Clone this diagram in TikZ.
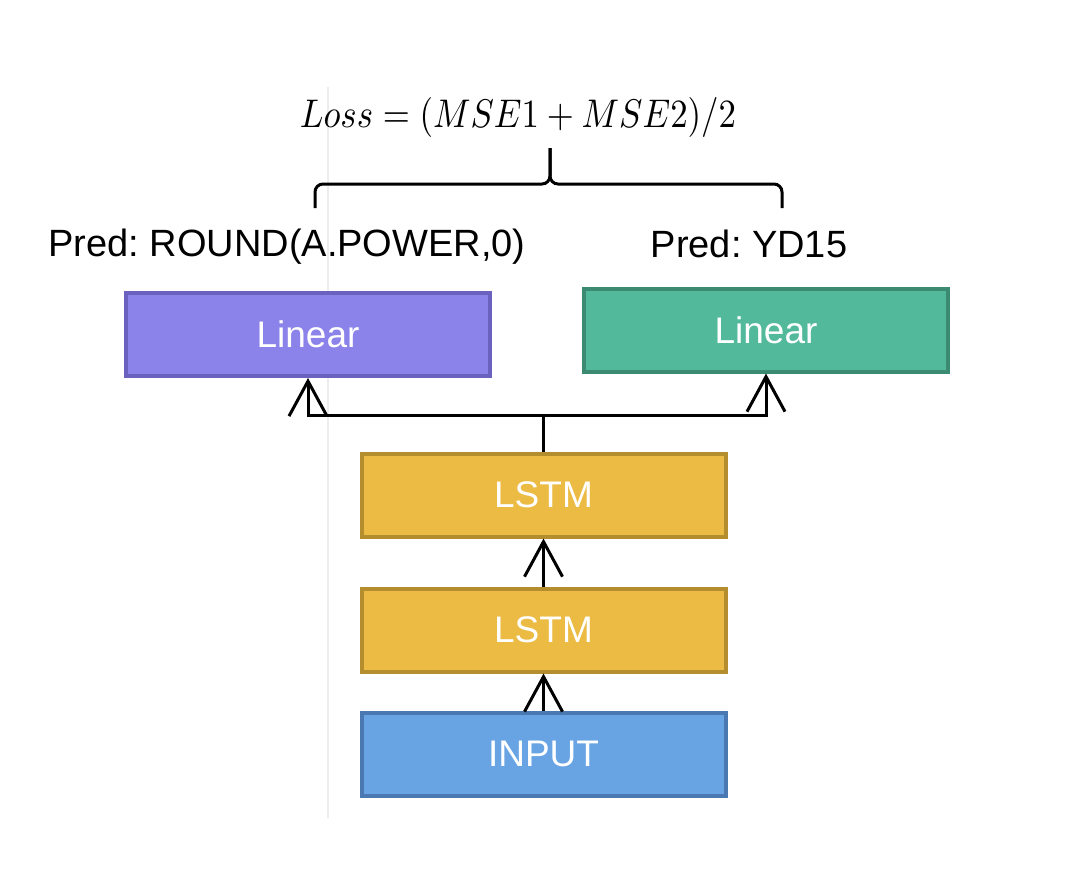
\documentclass[tikz,border=0pt]{standalone}
\usepackage{fontspec}
\setmainfont{Liberation Sans}
\frenchspacing
\usetikzlibrary{arrows.meta,positioning,calc}
\definecolor{pfill}{HTML}{8B82EA}
\definecolor{pdraw}{HTML}{6B62C0}
\definecolor{gfill}{HTML}{52B99A}
\definecolor{gdraw}{HTML}{3D8A72}
\definecolor{yfill}{HTML}{EBBB43}
\definecolor{ydraw}{HTML}{B48E2E}
\definecolor{bfill}{HTML}{68A4E4}
\definecolor{bdraw}{HTML}{4A78B0}
\definecolor{guide}{HTML}{EDEDED}
\tikzset{
  layerbox/.style={draw, line width=4pt, minimum width=364pt, minimum height=83pt,
    inner sep=0pt, text=white, font=\fontsize{37}{44}\selectfont},
  arr/.style={line width=3pt, -{Straight Barb[length=35pt,width=38pt,line width=3pt]}},
  conn/.style={line width=3pt},
  lbl/.style={font=\fontsize{38}{44}\selectfont, inner sep=0pt}
}
\begin{document}
\begin{tikzpicture}[x=1pt,y=-1pt]
\useasboundingbox[fill=white] (0,0) rectangle (1080,878);
\draw[guide, line width=2.5pt] (328,87) -- (328,818);

\node[layerbox, fill=pfill, draw=pdraw] (p) at (308,334.5) {Linear};
\node[layerbox, fill=gfill, draw=gdraw] (g) at (766,330) {Linear};
\node[layerbox, fill=yfill, draw=ydraw] (l1) at (543.5,495) {LSTM};
\node[layerbox, fill=yfill, draw=ydraw] (l2) at (543.5,630) {LSTM};
\node[layerbox, fill=bfill, draw=bdraw] (in) at (543.5,754) {INPUT};

\node[lbl] (tp) at (287,247) {Pred: ROUND(A.POWER,0)};
\node[lbl] (tg) at (749,244) {Pred: YD15};
\node[inner sep=0pt] (loss) at (518,117) {\resizebox{436pt}{30pt}{$Loss = (MSE1 + MSE2)/2$}};

% connectors
\draw[arr] (in.north) -- (l2.south);
\draw[arr] (l2.north) -- (l1.south);
\draw[conn] (l1.north) -- ++(0,-36) coordinate (j);
\draw[arr] (j) -| (p.south);
\draw[arr] (j) -| (g.south);

% brace
\coordinate (bl) at (315,208);
\coordinate (br) at (782,208);
\coordinate (bt) at (550,148);
\coordinate (bm) at (550,184);
\draw[line width=3pt, rounded corners=8pt] (bl) |- (bm) -- (bt);
\draw[line width=3pt, rounded corners=8pt] (br) |- (bm) -- (bt);
\end{tikzpicture}
\end{document}
